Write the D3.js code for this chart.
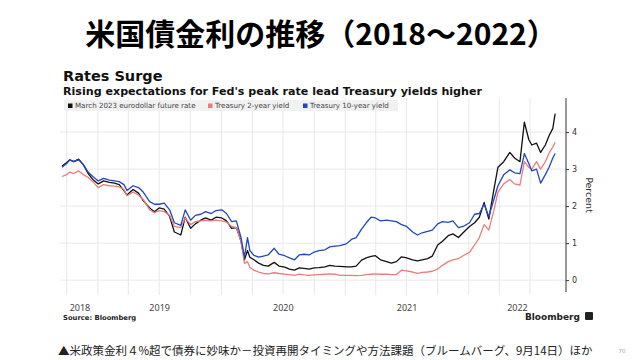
<!DOCTYPE html>
<html>
<head>
<meta charset="utf-8">
<script src="https://cdn.jsdelivr.net/npm/d3@7"></script>
<style>
  body { margin: 0; background: #fff; }
  svg { display: block; }
</style>
</head>
<body>
<div id="chart"></div>
<script>
'use strict';

// semi-monthly readings
const dates = [
  '2018-09-17','2018-10-01','2018-10-10','2018-10-22','2018-11-05','2018-11-19','2018-12-03','2018-12-17',
  '2019-01-02','2019-01-18','2019-02-04','2019-02-19','2019-03-05','2019-03-19','2019-03-28','2019-04-15',
  '2019-05-01','2019-05-15','2019-06-03','2019-06-17','2019-07-01','2019-07-16','2019-08-01','2019-08-15',
  '2019-09-03','2019-09-16','2019-10-02','2019-10-16','2019-11-01','2019-11-15','2019-12-02','2019-12-16',
  '2020-01-02','2020-01-16','2020-01-31','2020-02-14','2020-02-28','2020-03-09','2020-03-18','2020-03-25',
  '2020-04-06','2020-04-20','2020-05-04','2020-05-18','2020-06-05','2020-06-19','2020-07-06','2020-07-20',
  '2020-08-04','2020-08-18','2020-09-01','2020-09-16','2020-10-01','2020-10-15','2020-11-02','2020-11-16',
  '2020-12-01','2020-12-16','2021-01-04','2021-01-19','2021-02-02','2021-02-18','2021-03-04','2021-03-18',
  '2021-03-31','2021-04-15','2021-05-03','2021-05-17','2021-06-01','2021-06-16','2021-07-01','2021-07-19',
  '2021-08-02','2021-08-16','2021-09-01','2021-09-15','2021-10-01','2021-10-15','2021-11-01','2021-11-15',
  '2021-12-01','2021-12-15','2022-01-03','2022-01-18','2022-02-01','2022-02-15','2022-03-01','2022-03-15',
  '2022-03-28','2022-04-14','2022-05-02','2022-05-16','2022-06-01','2022-06-14','2022-06-27','2022-07-06',
  '2022-07-20','2022-08-01','2022-08-15','2022-08-26','2022-09-06','2022-09-13'
];

const eurodollar = [
  3.08, 3.18, 3.25, 3.20, 3.27, 3.12, 2.88, 2.72,
  2.60, 2.68, 2.64, 2.62, 2.58, 2.42, 2.30, 2.45,
  2.35, 2.15, 1.95, 1.85, 1.95, 1.92, 1.72, 1.30,
  1.22, 1.70, 1.40, 1.52, 1.62, 1.68, 1.62, 1.70,
  1.68, 1.60, 1.40, 1.42, 1.05, 0.55, 0.80, 0.62,
  0.55, 0.46, 0.40, 0.38, 0.48, 0.38, 0.35, 0.30,
  0.27, 0.33, 0.32, 0.30, 0.33, 0.34, 0.36, 0.40,
  0.38, 0.37, 0.36, 0.36, 0.38, 0.54, 0.60, 0.64,
  0.66, 0.55, 0.50, 0.46, 0.50, 0.63, 0.60, 0.55,
  0.52, 0.55, 0.58, 0.65, 0.95, 1.05, 1.20, 1.25,
  1.15, 1.28, 1.45, 1.55, 1.70, 2.10, 1.65, 2.40,
  3.05, 3.20, 3.45, 3.30, 3.20, 4.27, 3.80, 3.65,
  3.70, 3.45, 3.65, 3.90, 4.10, 4.50
];

const treasury2y = [
  2.80, 2.85, 2.92, 2.88, 2.95, 2.85, 2.78, 2.66,
  2.50, 2.58, 2.55, 2.54, 2.52, 2.45, 2.28, 2.38,
  2.30, 2.18, 1.90, 1.82, 1.88, 1.85, 1.75, 1.45,
  1.42, 1.68, 1.50, 1.58, 1.60, 1.62, 1.60, 1.62,
  1.60, 1.57, 1.45, 1.42, 1.05, 0.45, 0.50, 0.35,
  0.27, 0.22, 0.18, 0.17, 0.20, 0.18, 0.16, 0.15,
  0.13, 0.16, 0.14, 0.13, 0.14, 0.15, 0.16, 0.17,
  0.16, 0.13, 0.13, 0.13, 0.12, 0.13, 0.15, 0.16,
  0.17, 0.16, 0.16, 0.15, 0.15, 0.27, 0.25, 0.22,
  0.18, 0.21, 0.22, 0.24, 0.30, 0.40, 0.50, 0.55,
  0.58, 0.66, 0.75, 0.95, 1.15, 1.50, 1.35, 1.85,
  2.38, 2.60, 2.72, 2.60, 2.57, 3.20, 3.05, 3.00,
  3.20, 3.00, 3.20, 3.43, 3.60, 3.72
];

const treasury10y = [
  3.05, 3.15, 3.25, 3.20, 3.25, 3.12, 2.92, 2.80,
  2.68, 2.75, 2.70, 2.68, 2.66, 2.58, 2.42, 2.55,
  2.50, 2.38, 2.12, 2.05, 2.05, 2.08, 1.90, 1.55,
  1.48, 1.90, 1.62, 1.75, 1.78, 1.85, 1.80, 1.88,
  1.90, 1.80, 1.58, 1.60, 1.15, 0.62, 1.15, 0.80,
  0.67, 0.62, 0.65, 0.68, 0.86, 0.70, 0.66, 0.60,
  0.55, 0.68, 0.70, 0.68, 0.76, 0.80, 0.82, 0.90,
  0.92, 0.93, 0.98, 1.10, 1.15, 1.38, 1.55, 1.70,
  1.68, 1.60, 1.62, 1.60, 1.58, 1.50, 1.45, 1.30,
  1.22, 1.28, 1.32, 1.35, 1.52, 1.58, 1.56, 1.60,
  1.42, 1.45, 1.55, 1.78, 1.80, 2.05, 1.72, 2.15,
  2.55, 2.85, 2.98, 2.90, 2.88, 3.42, 3.15, 2.95,
  3.00, 2.62, 2.85, 3.05, 3.30, 3.42
];

const seriesNames = ['March 2023 eurodollar future rate', 'Treasury 2-year yield', 'Treasury 10-year yield'];
const seriesColors = ['#111111', '#ec7c7c', '#2147c0'];
const yTicks = [0, 1, 2, 3, 4];
const years = [2018, 2019, 2020, 2021, 2022];

const pageTitle = '米国債金利の推移（2018～2022）';
const chartTitle = 'Rates Surge';
const chartSubtitle = "Rising expectations for Fed's peak rate lead Treasury yields higher";
const footnote = '▲米政策金利４%超で債券に妙味か－投資再開タイミングや方法課題（ブルームバーグ、9月14日）ほか';

const W = 640, H = 360;
const plot = { left: 62, right: 566, top: 98, bottom: 292 };
const parse = d3.timeParse('%Y-%m-%d');
const times = dates.map(parse);

const svg = d3.select('#chart').append('svg')
    .attr('width', W).attr('height', H);

svg.append('text')
    .attr('x', 321).attr('y', 45)
    .attr('text-anchor', 'middle')
    .style('font-family', '"Noto Sans CJK JP", sans-serif')
    .style('font-weight', 700)
    .style('font-size', '30px')
    .attr('fill', '#000')
    .text(pageTitle);

let x = d3.scaleTime()
    .domain([times[0], parse('2022-10-15')])
    .range([plot.left, plot.right]);
let y = d3.scaleLinear()
    .domain([-0.32, 4.92])
    .range([plot.bottom, plot.top]);

// grid
let quarters = d3.timeMonth.every(3).range(parse('2018-10-01'), parse('2022-10-01'));
svg.append('g').selectAll('line').data(quarters)
    .enter().append('line')
        .attr('x1', d => x(d)).attr('x2', d => x(d))
        .attr('y1', plot.top).attr('y2', plot.bottom + 3)
        .attr('stroke', '#e8e8e8').attr('stroke-width', 1);
svg.append('g').selectAll('line').data(yTicks)
    .enter().append('line')
        .attr('x1', plot.left - 2).attr('x2', plot.right)
        .attr('y1', d => y(d)).attr('y2', d => y(d))
        .attr('stroke', '#e8e8e8').attr('stroke-width', 1);

// legend
let legend = svg.append('g').attr('transform', 'translate(64,100)');
legend.append('rect')
    .attr('width', 334).attr('height', 11)
    .attr('fill', '#f1f1f1');
let legendX = [4, 144, 239];
seriesNames.forEach((name, i) => {
    let g = legend.append('g').attr('transform', `translate(${legendX[i]},0)`);
    g.append('rect').attr('x', 0).attr('y', 3.5).attr('width', 4.5).attr('height', 4.5)
        .attr('fill', seriesColors[i]);
    g.append('text').attr('x', 7).attr('y', 8.3)
        .style('font-family', '"DejaVu Sans", sans-serif')
        .style('font-size', '7.1px')
        .attr('fill', '#444')
        .text(name);
});

// lines
let line = d3.line()
    .x((d, i) => x(times[i]))
    .y(d => y(d));
let drawOrder = [[eurodollar, 0], [treasury2y, 1], [treasury10y, 2]];
drawOrder.forEach(([vals, i]) => {
    svg.append('path')
        .attr('d', line(vals))
        .attr('fill', 'none')
        .attr('stroke', seriesColors[i])
        .attr('stroke-width', 1.3)
        .attr('stroke-linejoin', 'round');
});

// right axis
let yAxis = d3.axisRight(y).tickValues(yTicks).tickFormat(d3.format('d')).tickSize(3).tickPadding(3);
let axisG = svg.append('g')
    .attr('transform', `translate(${plot.right},0)`)
    .call(yAxis);
axisG.select('.domain').attr('d', `M0,${plot.top}V${plot.bottom}`).attr('stroke', '#333');
axisG.selectAll('.tick line').attr('stroke', '#333');
axisG.selectAll('.tick text')
    .style('font-family', '"DejaVu Sans", sans-serif')
    .style('font-size', '8px')
    .attr('fill', '#333');

svg.append('text')
    .attr('transform', `translate(586,195) rotate(90)`)
    .attr('text-anchor', 'middle')
    .style('font-family', '"DejaVu Sans", sans-serif')
    .style('font-size', '9.5px')
    .attr('fill', '#333')
    .text('Percent');

// year labels, centred in the visible part of each year
let x0 = x(times[0]), x1 = plot.right;
svg.append('g').selectAll('text').data(years)
    .enter().append('text')
        .attr('x', d => {
            let a = Math.max(x0, x(new Date(d, 0, 1)));
            let b = Math.min(x1, x(new Date(d + 1, 0, 1)));
            return (a + b) / 2;
        })
        .attr('y', 311)
        .attr('text-anchor', 'middle')
        .style('font-family', '"Noto Sans", sans-serif')
        .style('font-size', '9px')
        .attr('fill', '#444')
        .text(d => d);

// titles
svg.append('text')
    .attr('x', 63).attr('y', 81)
    .style('font-family', '"DejaVu Sans", sans-serif')
    .style('font-weight', 700)
    .style('font-size', '14.5px')
    .attr('fill', '#111')
    .text(chartTitle);
svg.append('text')
    .attr('x', 63).attr('y', 94.5)
    .style('font-family', '"DejaVu Sans", sans-serif')
    .style('font-weight', 700)
    .style('font-size', '11.1px')
    .attr('fill', '#111')
    .text(chartSubtitle);

svg.append('text')
    .attr('x', 63).attr('y', 320)
    .style('font-family', '"DejaVu Sans", sans-serif')
    .style('font-weight', 700)
    .style('font-size', '6.8px')
    .attr('fill', '#222')
    .text('Source: Bloomberg');

svg.append('text')
    .attr('x', 580).attr('y', 320)
    .attr('text-anchor', 'end')
    .style('font-family', '"DejaVu Sans", sans-serif')
    .style('font-weight', 700)
    .style('font-size', '9px')
    .attr('fill', '#222')
    .text('Bloomberg');
svg.append('rect')
    .attr('x', 585).attr('y', 312).attr('width', 8).attr('height', 8)
    .attr('rx', 1).attr('fill', '#222');

svg.append('text')
    .attr('x', 58).attr('y', 355)
    .style('font-family', '"Noto Sans CJK JP", sans-serif')
    .style('font-size', '11.5px')
    .attr('fill', '#222')
    .text(footnote);

svg.append('text')
    .attr('x', 622).attr('y', 353)
    .attr('text-anchor', 'middle')
    .style('font-family', '"Noto Sans", sans-serif')
    .style('font-size', '6px')
    .attr('fill', '#aaa')
    .text('70');
</script>
</body>
</html>
